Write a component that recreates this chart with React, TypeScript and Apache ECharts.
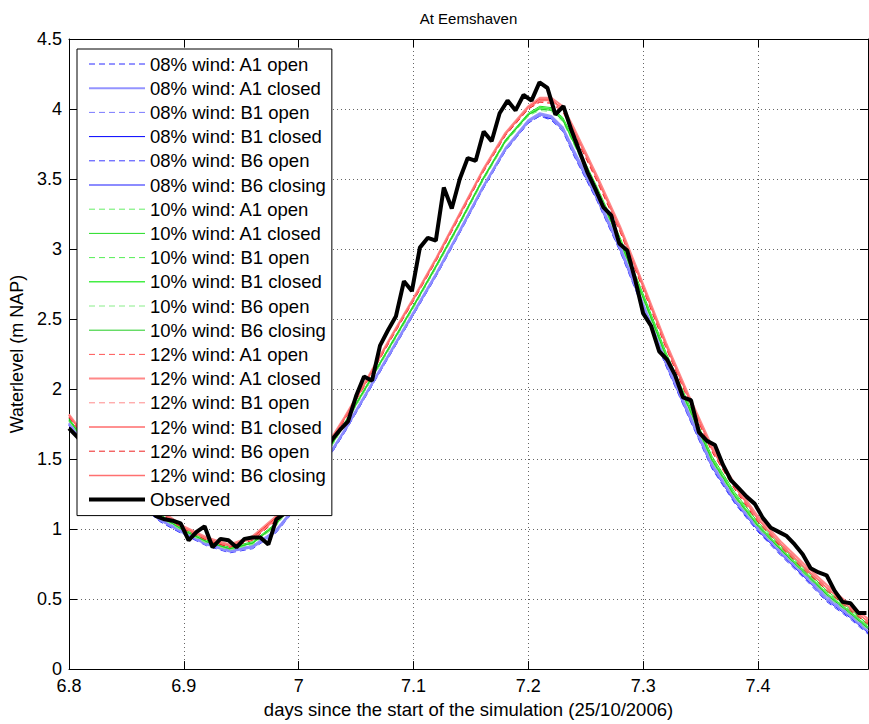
import React, { useEffect, useRef } from "react";
import * as echarts from "echarts";

const FONT = "'Liberation Sans', Arial, Helvetica, sans-serif";

// model output times (days)
const MODEL_T = [6.80, 6.82, 6.84, 6.86, 6.88, 6.90, 6.92, 6.94, 6.96, 6.98, 7.00, 7.02, 7.04, 7.06, 7.08, 7.10, 7.12, 7.14, 7.16, 7.18, 7.20, 7.21, 7.22, 7.23, 7.24, 7.26, 7.28, 7.30, 7.32, 7.34, 7.36, 7.38, 7.40, 7.42, 7.44, 7.46, 7.48, 7.4958];

const W08_A1_OPEN = [1.74, 1.52, 1.34, 1.18, 1.05, 0.96, 0.89, 0.84, 0.87, 0.98, 1.18, 1.43, 1.69, 1.97, 2.25, 2.53, 2.81, 3.11, 3.42, 3.70, 3.90, 3.95, 3.93, 3.86, 3.68, 3.36, 3.00, 2.59, 2.18, 1.81, 1.45, 1.19, 0.99, 0.82, 0.66, 0.50, 0.37, 0.27];
const W08_A1_CLOSED = [1.76, 1.54, 1.36, 1.20, 1.07, 0.98, 0.90, 0.85, 0.88, 0.99, 1.19, 1.45, 1.71, 1.99, 2.27, 2.55, 2.83, 3.13, 3.44, 3.72, 3.92, 3.97, 3.95, 3.87, 3.70, 3.38, 3.02, 2.61, 2.20, 1.83, 1.47, 1.21, 1.01, 0.84, 0.68, 0.52, 0.39, 0.29];
const W08_B1_OPEN = [1.75, 1.53, 1.35, 1.19, 1.06, 0.97, 0.89, 0.85, 0.88, 0.99, 1.19, 1.44, 1.70, 1.98, 2.26, 2.54, 2.82, 3.12, 3.43, 3.71, 3.91, 3.96, 3.94, 3.87, 3.69, 3.37, 3.01, 2.60, 2.19, 1.82, 1.46, 1.20, 1.00, 0.83, 0.67, 0.51, 0.38, 0.28];
const W08_B1_CLOSED = [1.75, 1.53, 1.35, 1.19, 1.06, 0.97, 0.89, 0.84, 0.87, 0.98, 1.18, 1.44, 1.70, 1.98, 2.26, 2.54, 2.82, 3.12, 3.43, 3.71, 3.91, 3.96, 3.93, 3.85, 3.67, 3.35, 2.99, 2.58, 2.17, 1.80, 1.44, 1.19, 0.99, 0.82, 0.66, 0.49, 0.37, 0.26];
const W08_B6_OPEN = [1.74, 1.52, 1.34, 1.18, 1.05, 0.96, 0.88, 0.83, 0.86, 0.97, 1.17, 1.43, 1.69, 1.97, 2.25, 2.53, 2.81, 3.11, 3.42, 3.70, 3.90, 3.95, 3.92, 3.84, 3.66, 3.34, 2.98, 2.57, 2.16, 1.79, 1.43, 1.18, 0.98, 0.81, 0.65, 0.48, 0.36, 0.25];
const W08_B6_CLOSING = [1.75, 1.53, 1.35, 1.19, 1.06, 0.97, 0.89, 0.84, 0.87, 0.98, 1.18, 1.44, 1.70, 1.98, 2.26, 2.54, 2.82, 3.12, 3.43, 3.71, 3.91, 3.96, 3.94, 3.86, 3.68, 3.36, 3.00, 2.59, 2.18, 1.81, 1.45, 1.20, 1.00, 0.83, 0.67, 0.50, 0.38, 0.27];

const W10_A1_OPEN = [1.77, 1.55, 1.37, 1.21, 1.08, 0.98, 0.90, 0.86, 0.89, 1.02, 1.23, 1.48, 1.74, 2.02, 2.30, 2.58, 2.87, 3.17, 3.48, 3.76, 3.95, 4.00, 3.99, 3.92, 3.75, 3.41, 3.05, 2.65, 2.23, 1.86, 1.49, 1.23, 1.02, 0.85, 0.69, 0.53, 0.40, 0.29];
const W10_A1_CLOSED = [1.79, 1.57, 1.39, 1.23, 1.10, 1.00, 0.92, 0.87, 0.91, 1.04, 1.25, 1.50, 1.76, 2.04, 2.32, 2.60, 2.89, 3.19, 3.50, 3.78, 3.97, 4.02, 4.01, 3.94, 3.78, 3.44, 3.08, 2.68, 2.26, 1.89, 1.52, 1.26, 1.05, 0.88, 0.72, 0.56, 0.43, 0.32];
const W10_B1_OPEN = [1.78, 1.56, 1.38, 1.22, 1.09, 0.99, 0.91, 0.86, 0.90, 1.03, 1.24, 1.49, 1.75, 2.03, 2.31, 2.59, 2.88, 3.18, 3.49, 3.77, 3.96, 4.01, 4.00, 3.93, 3.77, 3.43, 3.07, 2.67, 2.25, 1.88, 1.51, 1.25, 1.04, 0.87, 0.71, 0.55, 0.42, 0.31];
const W10_B1_CLOSED = [1.78, 1.56, 1.38, 1.22, 1.09, 0.99, 0.91, 0.86, 0.90, 1.03, 1.24, 1.49, 1.75, 2.03, 2.31, 2.59, 2.88, 3.18, 3.49, 3.77, 3.96, 4.01, 4.00, 3.93, 3.76, 3.42, 3.06, 2.66, 2.24, 1.87, 1.50, 1.24, 1.03, 0.86, 0.70, 0.54, 0.41, 0.30];
const W10_B6_OPEN = [1.77, 1.55, 1.37, 1.21, 1.08, 0.98, 0.90, 0.85, 0.89, 1.02, 1.23, 1.48, 1.74, 2.02, 2.30, 2.58, 2.87, 3.17, 3.48, 3.76, 3.95, 3.99, 3.98, 3.91, 3.74, 3.40, 3.04, 2.64, 2.22, 1.85, 1.48, 1.22, 1.01, 0.84, 0.68, 0.52, 0.39, 0.28];
const W10_B6_CLOSING = [1.78, 1.56, 1.38, 1.22, 1.09, 0.99, 0.91, 0.86, 0.90, 1.03, 1.24, 1.49, 1.75, 2.03, 2.31, 2.59, 2.88, 3.18, 3.49, 3.77, 3.96, 4.00, 3.99, 3.92, 3.75, 3.41, 3.05, 2.65, 2.23, 1.86, 1.49, 1.23, 1.02, 0.85, 0.69, 0.53, 0.40, 0.29];

const W12_A1_OPEN = [1.80, 1.58, 1.40, 1.24, 1.11, 1.00, 0.92, 0.87, 0.93, 1.07, 1.28, 1.52, 1.78, 2.06, 2.35, 2.63, 2.92, 3.23, 3.54, 3.81, 4.00, 4.05, 4.05, 3.99, 3.83, 3.49, 3.13, 2.72, 2.30, 1.92, 1.56, 1.29, 1.06, 0.88, 0.72, 0.57, 0.43, 0.33];
const W12_A1_CLOSED = [1.82, 1.60, 1.42, 1.26, 1.13, 1.02, 0.94, 0.89, 0.95, 1.09, 1.30, 1.54, 1.80, 2.08, 2.37, 2.65, 2.94, 3.25, 3.56, 3.83, 4.02, 4.08, 4.08, 4.02, 3.86, 3.52, 3.16, 2.75, 2.33, 1.95, 1.59, 1.32, 1.09, 0.91, 0.75, 0.60, 0.46, 0.36];
const W12_B1_OPEN = [1.81, 1.59, 1.41, 1.25, 1.12, 1.01, 0.93, 0.88, 0.94, 1.08, 1.29, 1.53, 1.79, 2.07, 2.36, 2.64, 2.93, 3.24, 3.55, 3.82, 4.01, 4.06, 4.06, 4.01, 3.85, 3.51, 3.15, 2.74, 2.32, 1.94, 1.58, 1.31, 1.08, 0.90, 0.74, 0.59, 0.45, 0.35];
const W12_B1_CLOSED = [1.81, 1.59, 1.41, 1.25, 1.12, 1.01, 0.93, 0.88, 0.94, 1.08, 1.29, 1.53, 1.79, 2.07, 2.36, 2.64, 2.93, 3.24, 3.55, 3.82, 4.01, 4.07, 4.07, 4.00, 3.84, 3.50, 3.14, 2.73, 2.31, 1.93, 1.57, 1.30, 1.07, 0.89, 0.73, 0.58, 0.44, 0.34];
const W12_B6_OPEN = [1.80, 1.58, 1.40, 1.24, 1.11, 1.00, 0.92, 0.87, 0.92, 1.06, 1.27, 1.52, 1.78, 2.06, 2.35, 2.63, 2.92, 3.23, 3.54, 3.81, 4.00, 4.05, 4.04, 3.98, 3.82, 3.48, 3.12, 2.71, 2.29, 1.91, 1.55, 1.28, 1.05, 0.87, 0.71, 0.56, 0.42, 0.32];
const W12_B6_CLOSING = [1.81, 1.59, 1.41, 1.25, 1.12, 1.01, 0.93, 0.88, 0.93, 1.07, 1.28, 1.53, 1.79, 2.07, 2.36, 2.64, 2.93, 3.24, 3.55, 3.82, 4.01, 4.06, 4.06, 4.00, 3.84, 3.50, 3.14, 2.73, 2.31, 1.93, 1.57, 1.30, 1.07, 0.89, 0.73, 0.58, 0.44, 0.34];

// observed: 10-minute samples starting at day 6.8
const OBS_START = 6.8;
const OBS_STEP = 1 / 144;
const OBSERVED = [
  1.72, 1.66, 1.60, 1.53, 1.47, 1.41, 1.35, 1.29, 1.24, 1.19,
  1.14, 1.09, 1.07, 1.06, 1.04, 0.92, 0.98, 1.02, 0.87, 0.93,
  0.92, 0.87, 0.93, 0.94, 0.94, 0.89, 1.07, 1.11, 1.12, 1.19,
  1.30, 1.42, 1.54, 1.64, 1.71, 1.77, 1.95, 2.09, 2.06, 2.31,
  2.42, 2.52, 2.77, 2.70, 3.01, 3.08, 3.06, 3.44, 3.29, 3.50,
  3.65, 3.63, 3.84, 3.77, 3.97, 4.06, 3.99, 4.10, 4.06, 4.19,
  4.15, 3.96, 4.02, 3.85, 3.70, 3.55, 3.43, 3.30, 3.24, 3.04,
  2.99, 2.78, 2.54, 2.45, 2.27, 2.21, 2.10, 1.94, 1.92, 1.69,
  1.63, 1.60, 1.46, 1.35, 1.29, 1.23, 1.18, 1.08, 1.01, 0.98,
  0.95, 0.89, 0.82, 0.72, 0.69, 0.67, 0.56, 0.48, 0.47, 0.40,
  0.40,
];

const X_TICKS = [6.8, 6.9, 7.0, 7.1, 7.2, 7.3, 7.4];
const Y_TICKS = [0, 0.5, 1, 1.5, 2, 2.5, 3, 3.5, 4, 4.5];

type Spec = { name: string; data: number[]; color: string; width: number; dashed: boolean };

const MODELS: Spec[] = [
  { name: "08% wind: A1 open", data: W08_A1_OPEN, color: "#2a2aff", width: 1, dashed: true },
  { name: "08% wind: A1 closed", data: W08_A1_CLOSED, color: "#9494ff", width: 2, dashed: false },
  { name: "08% wind: B1 open", data: W08_B1_OPEN, color: "#7a7aff", width: 1, dashed: true },
  { name: "08% wind: B1 closed", data: W08_B1_CLOSED, color: "#0000ff", width: 1, dashed: false },
  { name: "08% wind: B6 open", data: W08_B6_OPEN, color: "#3c3cff", width: 1, dashed: true },
  { name: "08% wind: B6 closing", data: W08_B6_CLOSING, color: "#8c8cff", width: 2, dashed: false },
  { name: "10% wind: A1 open", data: W10_A1_OPEN, color: "#66ee66", width: 1, dashed: true },
  { name: "10% wind: A1 closed", data: W10_A1_CLOSED, color: "#22dd22", width: 1, dashed: false },
  { name: "10% wind: B1 open", data: W10_B1_OPEN, color: "#55ee55", width: 1, dashed: true },
  { name: "10% wind: B1 closed", data: W10_B1_CLOSED, color: "#44ee44", width: 1.5, dashed: false },
  { name: "10% wind: B6 open", data: W10_B6_OPEN, color: "#88ee88", width: 1, dashed: true },
  { name: "10% wind: B6 closing", data: W10_B6_CLOSING, color: "#22cc22", width: 1, dashed: false },
  { name: "12% wind: A1 open", data: W12_A1_OPEN, color: "#ff5555", width: 1, dashed: true },
  { name: "12% wind: A1 closed", data: W12_A1_CLOSED, color: "#ff8888", width: 2, dashed: false },
  { name: "12% wind: B1 open", data: W12_B1_OPEN, color: "#ff8a8a", width: 1, dashed: true },
  { name: "12% wind: B1 closed", data: W12_B1_CLOSED, color: "#ff2222", width: 1, dashed: false },
  { name: "12% wind: B6 open", data: W12_B6_OPEN, color: "#ee2222", width: 1, dashed: true },
  { name: "12% wind: B6 closing", data: W12_B6_CLOSING, color: "#ff7070", width: 1.5, dashed: false },
];

function isTick(v: number, ticks: number[]) {
  return ticks.some((t) => Math.abs(t - v) < 1e-6);
}

export default function App() {
  const ref = useRef<HTMLDivElement>(null);
  useEffect(() => {
    if (!ref.current) return;
    const chart = echarts.init(ref.current, null, { renderer: "svg" });
    const xMin = 6.8;
    const xMax = 7.4958;

    const series: any[] = MODELS.map((m) => ({
      name: m.name,
      type: "line",
      symbol: "none",
      showSymbol: false,
      data: MODEL_T.map((t, i) => [t, m.data[i]]),
      lineStyle: { color: m.color, width: m.width, type: m.dashed ? [6, 4] : "solid" },
      itemStyle: { color: m.color },
      emphasis: { disabled: true },
      silent: true,
      z: 2,
    }));
    series.push({
      name: "Observed",
      type: "line",
      symbol: "none",
      showSymbol: false,
      data: OBSERVED.map((v, i) => [OBS_START + i * OBS_STEP, v]),
      lineStyle: { color: "#000", width: 4, type: "solid" },
      itemStyle: { color: "#000" },
      emphasis: { disabled: true },
      silent: true,
      z: 3,
    });

    const axisCommon = {
      axisLine: { show: true, onZero: false, lineStyle: { color: "#000", width: 1 } },
      axisTick: { show: true, inside: true, length: 8, lineStyle: { color: "#000", width: 1 } },
    };

    chart.setOption({
      animation: false,
      backgroundColor: "#fff",
      graphic: [
        {
          type: "text",
          x: 468.5,
          y: 18,
          silent: true,
          style: {
            text: "At Eemshaven",
            align: "center",
            verticalAlign: "middle",
            fontFamily: FONT,
            fontSize: 15,
            fill: "#000",
          },
        },
      ],
      grid: { left: 69, right: 1, top: 39, bottom: 51.5, containLabel: false },
      legend: {
        orient: "vertical",
        left: 77,
        top: 49,
        itemWidth: 56,
        itemHeight: 14,
        itemGap: 4.2,
        padding: [5, 6, 6, 10],
        backgroundColor: "#fff",
        borderColor: "#000",
        borderWidth: 1,
        borderRadius: 0,
        selectedMode: false,
        itemStyle: { opacity: 0, color: "transparent", borderWidth: 0 },
        lineStyle: { width: "inherit" },
        textStyle: { fontFamily: FONT, fontSize: 18.5, color: "#000", lineHeight: 20 },
        data: [...MODELS.map((m) => m.name), "Observed"],
        z: 10,
      },
      xAxis: [
        {
          type: "value",
          position: "bottom",
          min: xMin,
          max: xMax,
          interval: 0.1,
          ...axisCommon,
          axisLabel: {
            show: true,
            margin: 8,
            fontFamily: FONT,
            fontSize: 18,
            color: "#000",
            showMaxLabel: false,
            formatter: (v: number) => (isTick(v, X_TICKS) ? String(Math.round(v * 10) / 10) : ""),
          },
          splitLine: { show: true, lineStyle: { color: "#666", width: 1, type: [1, 3] } },
          name: "days since the start of the simulation (25/10/2006)",
          nameLocation: "middle",
          nameGap: 30,
          nameTextStyle: { fontFamily: FONT, fontSize: 18.5, color: "#000" },
        },
        {
          type: "value",
          position: "top",
          min: xMin,
          max: xMax,
          interval: 0.1,
          ...axisCommon,
          axisLabel: { show: false },
          splitLine: { show: false },
        },
      ],
      yAxis: [
        {
          type: "value",
          position: "left",
          min: 0,
          max: 4.5,
          interval: 0.5,
          ...axisCommon,
          axisLabel: {
            show: true,
            margin: 7,
            fontFamily: FONT,
            fontSize: 18,
            color: "#000",
            formatter: (v: number) => (isTick(v, Y_TICKS) ? String(Math.round(v * 10) / 10) : ""),
          },
          splitLine: { show: true, lineStyle: { color: "#666", width: 1, type: [1, 3] } },
          name: "Waterlevel (m NAP)",
          nameLocation: "middle",
          nameGap: 38,
          nameTextStyle: { fontFamily: FONT, fontSize: 18, color: "#000" },
        },
        {
          type: "value",
          position: "right",
          min: 0,
          max: 4.5,
          interval: 0.5,
          ...axisCommon,
          axisLabel: { show: false },
          splitLine: { show: false },
        },
      ],
      series,
    });
    return () => chart.dispose();
  }, []);

  return (
    <div
      ref={ref}
      style={{ position: "fixed", left: 0, top: 0, width: 869, height: 724, background: "#fff" }}
    />
  );
}
